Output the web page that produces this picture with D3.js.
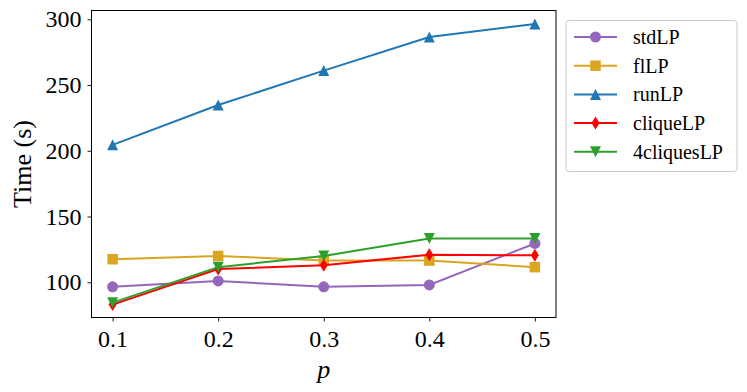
<!DOCTYPE html>
<html>
<head>
<meta charset="utf-8">
<script src="https://cdn.jsdelivr.net/npm/d3@7"></script>
<style>
  body { margin: 0; background: #fff; }
  text { font-family: "Liberation Serif", "DejaVu Serif", serif; }
</style>
</head>
<body>
<script>
const width = 747, height = 392;
const margin = {left: 91.5, top: 10.5, right: 556, bottom: 317.5};

const pValues = [0.1, 0.2, 0.3, 0.4, 0.5];
const stdLP = [96.5, 101, 96.5, 98, 129.5];
const flLP = [117.5, 120, 116.5, 116.5, 111.5];
const runLP = [204.5, 234.8, 261, 286.5, 296.5];
const cliqueLP = [83, 110, 113, 121, 120.5];
const fourCliquesLP = [84.5, 111.5, 120, 133.2, 133.2];
const yTicks = [100, 150, 200, 250, 300];

const series = [
  {name: "stdLP", values: stdLP, color: "#9467bd", shape: "circle"},
  {name: "flLP", values: flLP, color: "#DAA520", shape: "square"},
  {name: "runLP", values: runLP, color: "#1f77b4", shape: "up"},
  {name: "cliqueLP", values: cliqueLP, color: "#ff0000", shape: "diamond"},
  {name: "4cliquesLP", values: fourCliquesLP, color: "#2ca02c", shape: "down"}
];

const svg = d3.select("body").append("svg").attr("width", width).attr("height", height);

const x = d3.scaleLinear().domain([0.08, 0.52]).range([margin.left, margin.right]);
const y = d3.scaleLinear().domain([73.2, 306.7]).range([margin.bottom, margin.top]);

// marker path, size = marker box in px
function markerPath(shape, s) {
  const h = s / 2;
  if (shape === "circle") return d3.symbol(d3.symbolCircle, Math.PI * h * h)();
  if (shape === "square") return `M${-h},${-h}H${h}V${h}H${-h}Z`;
  if (shape === "up") return `M0,${-h}L${h},${h}L${-h},${h}Z`;
  if (shape === "down") return `M0,${h}L${h},${-h}L${-h},${-h}Z`;
  if (shape === "diamond") return `M0,${-h}L${h * 0.62},0L0,${h}L${-h * 0.62},0Z`;
}
const markerSize = {circle: 11, square: 10.5, up: 11, down: 11, diamond: 13};

// axes
const xAxis = d3.axisBottom(x).tickValues(pValues).tickFormat(d3.format(".1f")).tickSizeInner(4).tickSizeOuter(0).tickPadding(8);
const yAxis = d3.axisLeft(y).tickValues(yTicks).tickSizeInner(4).tickSizeOuter(0).tickPadding(6);

const gx = svg.append("g").attr("transform", `translate(0,${margin.bottom})`).call(xAxis);
const gy = svg.append("g").attr("transform", `translate(${margin.left},0)`).call(yAxis);
[gx, gy].forEach(g => {
  g.select(".domain").remove();
  g.selectAll(".tick line").attr("stroke", "#000").attr("stroke-width", 0.9);
  g.selectAll(".tick text").attr("font-size", 24).attr("fill", "#000");
});

// lines and markers
const line = d3.line().x((d, i) => x(pValues[i])).y(d => y(d));
const plot = svg.append("g");
series.forEach(s => {
  plot.append("path").datum(s.values).attr("d", line)
    .attr("fill", "none").attr("stroke", s.color).attr("stroke-width", 2);
  plot.selectAll(null).data(s.values).join("path")
    .attr("transform", (d, i) => `translate(${x(pValues[i])},${y(d)})`)
    .attr("d", markerPath(s.shape, markerSize[s.shape]))
    .attr("fill", s.color);
});

// frame
svg.append("rect")
  .attr("x", margin.left).attr("y", margin.top)
  .attr("width", margin.right - margin.left).attr("height", margin.bottom - margin.top)
  .attr("fill", "none").attr("stroke", "#000").attr("stroke-width", 1);

// axis labels
svg.append("text").attr("x", (margin.left + margin.right) / 2).attr("y", 378)
  .attr("text-anchor", "middle").attr("font-size", 26).attr("font-style", "italic").text("p");
svg.append("text").attr("transform", `translate(31,${(margin.top + margin.bottom) / 2}) rotate(-90)`)
  .attr("text-anchor", "middle").attr("font-size", 26).text("Time (s)");

// legend
const legend = svg.append("g").attr("transform", "translate(566,20.5)");
legend.append("rect").attr("width", 171).attr("height", 151).attr("rx", 3)
  .attr("fill", "#fff").attr("stroke", "#ccc").attr("stroke-width", 1);
series.forEach((s, i) => {
  const ly = 16.5 + i * 28.7;
  const row = legend.append("g").attr("transform", `translate(0,${ly})`);
  row.append("line").attr("x1", 8).attr("x2", 51).attr("stroke", s.color).attr("stroke-width", 2);
  row.append("path").attr("transform", "translate(29.5,0)")
    .attr("d", markerPath(s.shape, markerSize[s.shape])).attr("fill", s.color);
  row.append("text").attr("x", 67).attr("y", 0).attr("dy", "0.35em")
    .attr("font-size", 20).text(s.name);
});
</script>
</body>
</html>
